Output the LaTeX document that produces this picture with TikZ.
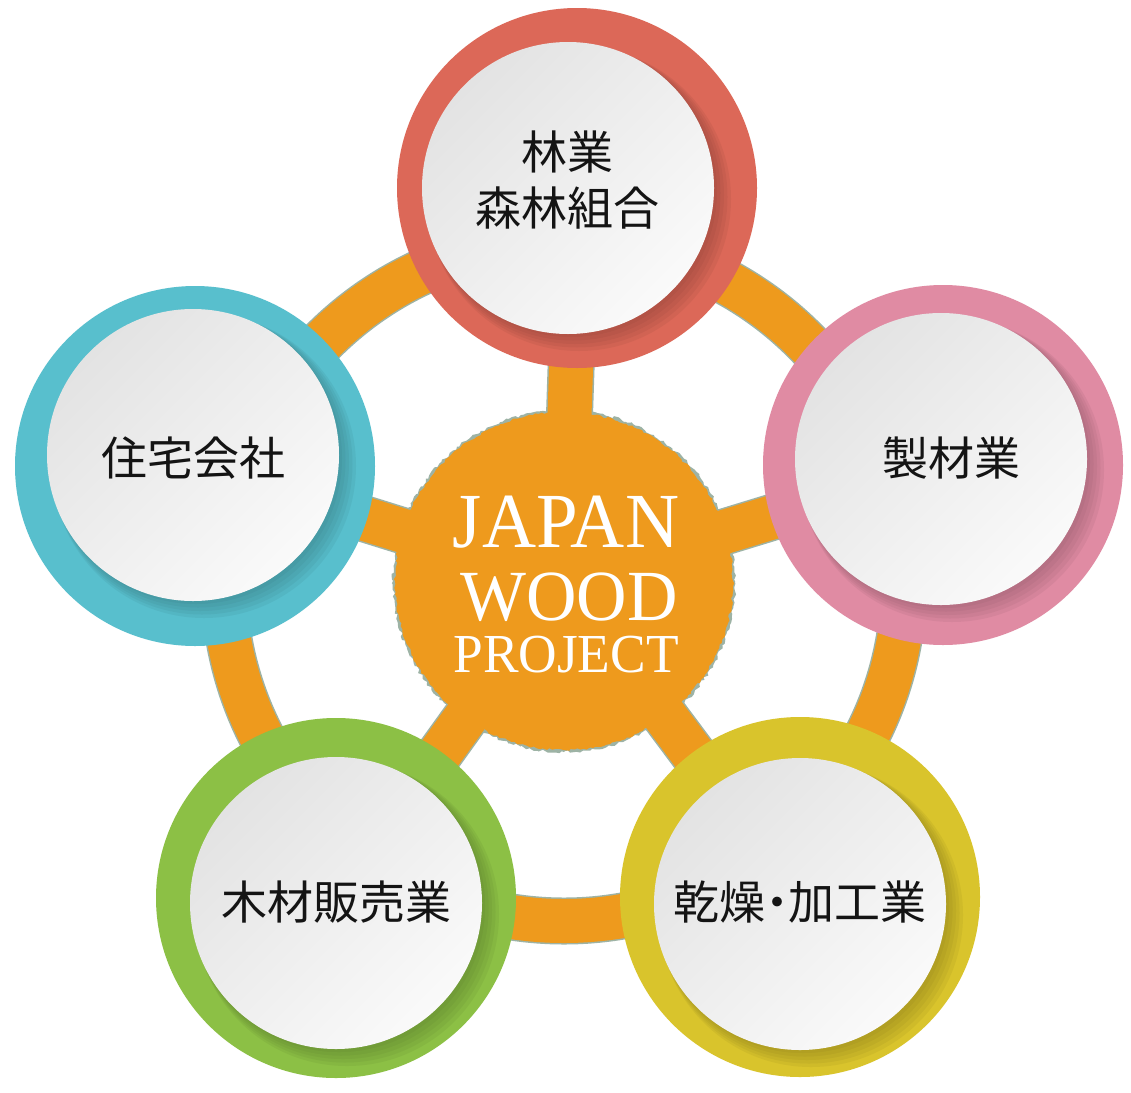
\documentclass[tikz,border=0pt]{standalone}
\usepackage{fontspec}
\newfontfamily\jp{Noto Sans CJK JP}
\newfontfamily\logofont{Liberation Serif}
\usetikzlibrary{calc,decorations.pathmorphing}
\definecolor{orng}{HTML}{EE9A1D}
\definecolor{edgec}{HTML}{9DB3A5}
\definecolor{cred}{HTML}{DC6858}
\definecolor{cpink}{HTML}{E08BA3}
\definecolor{cyel}{HTML}{D9C42C}
\definecolor{cgreen}{HTML}{8CC045}
\definecolor{ccyan}{HTML}{58BFCD}
\tikzset{
  ringdisc/.style={circle, inner sep=0pt, minimum size=360pt},
  face/.style={circle, inner sep=0pt, minimum size=292pt, top color=black!11, bottom color=black!2, shading angle=45},
  jplabel/.style={font=\jp\fontsize{46}{56}\selectfont, align=center, text=black!92, inner sep=0pt},
  logo/.style={text=white, anchor=base, inner sep=0pt},
  band/.style={line width=44pt, orng},
  bandedge/.style={line width=47pt, edgec},
}
\newcommand\jwbubble[4]{%
  \node[ringdisc, fill=#4] (#1) at (#2) {};
  \foreach \k in {0,...,4}{
    \fill[#4!62!black, opacity=0.12] ($(#3)+(3+2*\k,3+2*\k)$) circle[radius=146+1.5*\k];
  }
  \node[face] (#1w) at (#3) {};
}
\begin{document}
\begin{tikzpicture}[x=1pt,y=-1pt]
\useasboundingbox (0,0) rectangle (1131,1092);
\fill[white] (0,0) rectangle (1131,1092);
\pgfmathsetseed{7}
\coordinate (C) at (564,581);
\coordinate (o1) at (577,188);
\coordinate (o2) at (943,465);
\coordinate (o3) at (800,897);
\coordinate (o4) at (336,898);
\coordinate (o5) at (195,466);
% speckled edge under the orange shapes
\draw[bandedge] (C) circle[radius=340];
\foreach \o in {o1,o2,o3,o4,o5}{\draw[bandedge] (C) -- (\o);}
\fill[edgec, decorate, decoration={random steps, segment length=3pt, amplitude=1.5pt}] (C) circle[radius=171];
% orange ring, spokes and centre
\draw[band] (C) circle[radius=340];
\foreach \o in {o1,o2,o3,o4,o5}{\draw[band] (C) -- (\o);}
\fill[orng, decorate, decoration={random steps, segment length=3pt, amplitude=1.2pt}] (C) circle[radius=169];
\node[logo] (logo) at (566,547) {\parbox[t]{320pt}{\centering\logofont
  \fontsize{78}{78}\selectfont\scalebox{0.96}[1]{JAPAN}\par
  \fontsize{72}{73}\selectfont\hspace*{6pt}\scalebox{0.97}[1]{WOOD}\par
  \fontsize{55}{52}\selectfont\scalebox{0.97}[1]{PROJECT}\par}};
% outer bubbles
\jwbubble{b1}{577,188}{568,188}{cred}
\jwbubble{b2}{943,465}{941,459}{cpink}
\jwbubble{b3}{800,897}{800,904}{cyel}
\jwbubble{b4}{336,898}{336,903}{cgreen}
\jwbubble{b5}{195,466}{193,455}{ccyan}
\node[jplabel] (t1) at (567,180) {林業\\森林組合};
\node[jplabel] (t2) at (951,458) {製材業};
\node[jplabel] (t3) at (800,902) {乾燥\makebox[0.5em][c]{・}加工業};
\node[jplabel] (t4) at (336,902) {木材販売業};
\node[jplabel] (t5) at (193,458) {住宅会社};
\end{tikzpicture}
\end{document}
